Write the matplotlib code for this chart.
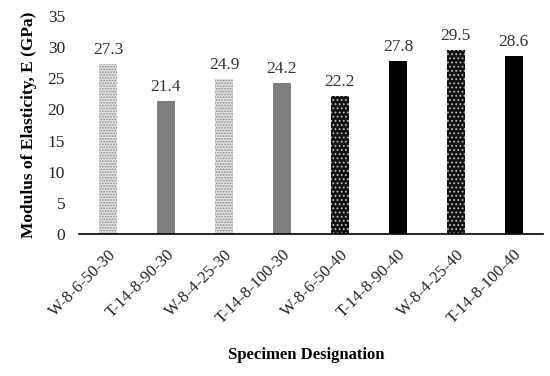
import matplotlib.pyplot as plt

plt.rcParams['font.family'] = ['Liberation Serif', 'DejaVu Serif']
plt.rcParams['hatch.linewidth'] = 0.8

categories = ["W-8-6-50-30", "T-14-8-90-30", "W-8-4-25-30", "T-14-8-100-30",
              "W-8-6-50-40", "T-14-8-90-40", "W-8-4-25-40", "T-14-8-100-40"]
values = [27.3, 21.4, 24.9, 24.2, 22.2, 27.8, 29.5, 28.6]
yticks = [0, 5, 10, 15, 20, 25, 30, 35]

styles = [
    dict(facecolor='#e0e0e0', edgecolor='#909090', hatch='......'),
    dict(facecolor='#7f7f7f', edgecolor='#7f7f7f', hatch=None),
    dict(facecolor='#e0e0e0', edgecolor='#909090', hatch='......'),
    dict(facecolor='#7f7f7f', edgecolor='#7f7f7f', hatch=None),
    dict(facecolor='#111111', edgecolor='#bfbfbf', hatch='....'),
    dict(facecolor='#000000', edgecolor='#000000', hatch=None),
    dict(facecolor='#111111', edgecolor='#bfbfbf', hatch='....'),
    dict(facecolor='#000000', edgecolor='#000000', hatch=None),
]

fig = plt.figure(figsize=(5.5, 3.76), dpi=100)
ax = fig.add_axes([0.1436, 0.378, 0.987 - 0.1436, 0.957 - 0.378])

x = range(len(categories))
for i, (v, st) in enumerate(zip(values, styles)):
    ax.bar(i, v, width=0.31, linewidth=0, **st)
    ax.text(i, v + 1.0, f"{v:.1f}", ha='center', va='bottom', fontsize=12.5, color='#333333')

ax.set_xlim(-0.5, len(categories) - 0.5)
ax.set_ylim(0, 35)
ax.set_yticks(yticks)
ax.set_yticklabels([str(t) for t in yticks], fontsize=12.5, color='#222222')
ax.set_xticks(list(x))
ax.set_xticklabels(categories, rotation=45, ha='right', rotation_mode='anchor', fontsize=12, color='#222222')
ax.tick_params(axis='y', length=0, pad=10)
ax.tick_params(axis='x', length=0, pad=9)
for s in ['top', 'right', 'left']:
    ax.spines[s].set_visible(False)
ax.spines['bottom'].set_linewidth(1.2)

ax.set_ylabel("Modulus of Elasticity, E (GPa)", fontsize=12.5, fontweight='bold', labelpad=8)
fig.text(0.557, 0.057, "Specimen Designation", ha='center', va='center', fontsize=12, fontweight='bold')

fig.savefig("out.png", dpi=100, facecolor='white')
